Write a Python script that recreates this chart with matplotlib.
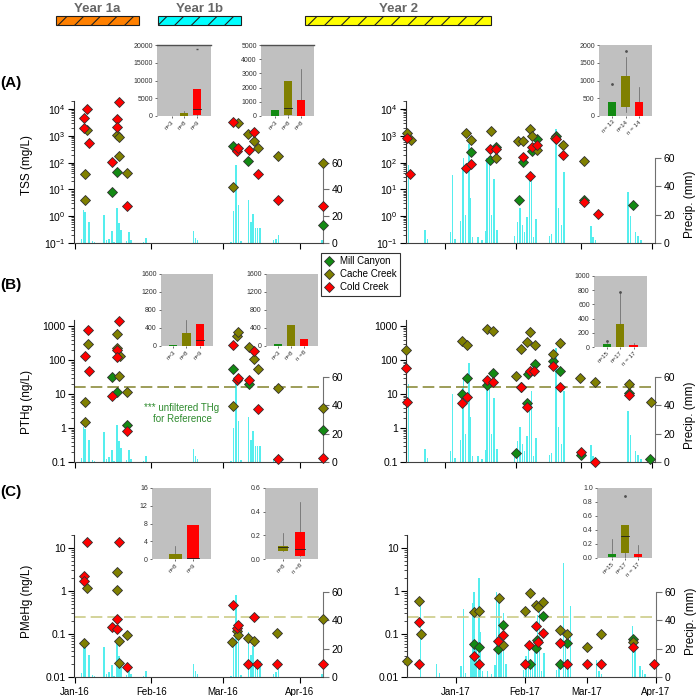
import matplotlib
matplotlib.use("Agg")
import matplotlib.pyplot as plt
from matplotlib.patches import Rectangle
from matplotlib.lines import Line2D
from matplotlib.ticker import FuncFormatter, NullFormatter
import numpy as np

plt.rcParams['font.family'] = ['Liberation Sans', 'DejaVu Sans']
plt.rcParams['hatch.linewidth'] = 0.8

# ---- data: (day since 1 Jan, value); year 1 = 2016, year 2 = 2017 ----
TSS_Y1_MILL = [(15.1, 7.8), (17.0, 43), (64.2, 410), (70.0, 115), (100.4, 0.48)]
TSS_Y1_CACHE = [(5.1, 1600), (4.0, 37), (4.0, 3.9), (17.0, 1050), (17.9, 900),
                (17.9, 180), (21.0, 40), (66.2, 3000), (69.9, 1150), (72.3, 650),
                (74.3, 340), (82.0, 180), (64.2, 12), (100.4, 100)]
TSS_Y1_COLD = [(5.1, 10000), (3.9, 4700), (3.9, 2000), (5.9, 560), (17.9, 19000),
               (17.0, 4200), (17.0, 2200), (15.1, 105), (21.0, 2.5), (64.2, 3200),
               (72.3, 1350), (65.6, 275), (66.2, 340), (70.3, 290), (74.0, 39),
               (82.0, 3.9), (100.4, 2.4)]
TSS_Y2_MILL = [(11.2, 245), (22, 380), (19.6, 125), (34, 102), (32, 4), (40, 780),
               (38, 280), (48.3, 1000), (60.4, 4), (81.6, 2.6)]
TSS_Y2_CACHE = [(-16.4, 1260), (-14.9, 700), (9, 1260), (11.2, 700), (20, 1580),
                (22, 145), (31.9, 660), (34, 660), (37, 1820), (38, 1020), (40, 300),
                (48, 850), (51.4, 440), (60.4, 120)]
TSS_Y2_COLD = [(-16.4, 810), (-15.2, 37), (9, 65), (11.2, 89), (19.6, 325), (22, 320),
               (34, 167), (38, 400), (40, 460), (37, 32), (48.3, 750), (51.4, 195),
               (60.4, 3.5), (66.4, 1.2)]

PTHG_Y1_MILL = [(15.1, 31), (17.0, 11.7), (21.0, 1.2), (64.2, 55), (70.3, 20), (100.4, 0.9)]
PTHG_Y1_CACHE = [(5.3, 290), (4.2, 5.8), (4.2, 1.5), (17.0, 570), (17.0, 230), (18.3, 130),
                 (17.9, 33), (21.0, 11.7), (65.8, 510), (66.2, 680), (70.3, 240),
                 (72.3, 107), (74.3, 55), (82.0, 15), (64.2, 4.3), (100.4, 4.0)]
PTHG_Y1_COLD = [(5.3, 760), (4.2, 134), (5.9, 46), (17.9, 1400), (17.0, 200), (17.0, 120),
                (15.1, 8.5), (21.0, 0.8), (64.2, 275), (72.3, 190), (65.6, 26), (66.2, 30),
                (70.3, 25), (74.3, 3.5), (82.4, 0.12), (100.4, 0.13)]
PTHG_Y2_MILL = [(9.7, 29), (7.5, 10), (20.7, 42), (18.4, 18), (32.9, 16), (39.1, 74),
                (36, 40), (35.8, 5.4), (46.8, 93), (50, 48), (80.1, 10.5), (30.9, 0.18),
                (59, 0.16), (89.1, 0.12)]
PTHG_Y2_CACHE = [(-17.0, 195), (7.5, 360), (9.7, 275), (18.4, 800), (20.7, 730), (30.7, 34),
                 (32.9, 205), (37, 650), (35.8, 330), (39.1, 280), (46.8, 148), (50, 325),
                 (58.7, 29), (65.2, 23), (80.1, 20), (89.4, 6)]
PTHG_Y2_COLD = [(-17.0, 57), (-16.4, 5.8), (7.5, 5.6), (9.7, 8.3), (18.4, 25), (20.7, 23),
                (32.9, 16), (37, 46), (38.5, 46), (35.8, 4.2), (46.8, 66), (50, 16),
                (80.1, 9.3), (59, 0.2), (65, 0.1)]

PMEHG_Y1_MILL = []
PMEHG_Y1_CACHE = [(5.1, 1.2), (3.8, 0.062), (17, 2.8), (17, 1.07), (17.7, 0.068), (21, 0.095),
                  (17.7, 0.021), (65.6, 0.115), (66.2, 0.095), (63.8, 0.065), (69.9, 0.079),
                  (72.3, 0.068), (81.8, 0.105), (100.2, 0.22)]
PMEHG_Y1_COLD = [(5.1, 14), (3.8, 2.2), (3.8, 1.7), (17.7, 13.5), (17, 0.22), (15, 0.145),
                 (17, 0.13), (21, 0.017), (64.2, 0.48), (65.6, 0.14), (66.2, 0.16),
                 (72.3, 0.245), (69.9, 0.02), (73.9, 0.02), (81.8, 0.02), (100.2, 0.02)]
PMEHG_Y2_MILL = [(8.1, 0.059), (10.4, 0.049), (21, 0.166), (19, 0.045), (33.3, 0.02),
                 (39.1, 0.26), (36.6, 0.074), (36, 0.048), (46.8, 0.02), (50.1, 0.063),
                 (79.9, 0.076)]
PMEHG_Y2_CACHE = [(-21.9, 0.024), (-16.7, 0.6), (-15.9, 0.1), (8.1, 0.32), (10.4, 0.34),
                  (19.4, 0.67), (21, 0.056), (31.1, 0.34), (33.3, 0.89), (35.9, 0.46),
                  (37.1, 0.42), (39.1, 0.55), (46.8, 0.126), (50.1, 0.1), (58.9, 0.051),
                  (65.2, 0.1), (79.9, 0.065)]
PMEHG_Y2_COLD = [(-16.7, 0.19), (-16.7, 0.02), (8.1, 0.03), (10.4, 0.02), (21, 0.095),
                 (19, 0.07), (33, 0.054), (31.1, 0.02), (35.9, 0.15), (39.1, 0.107),
                 (37.1, 0.065), (46.8, 0.062), (50.1, 0.02), (58.9, 0.02), (65.2, 0.02),
                 (79.9, 0.051), (89, 0.02)]

RAIN_Y1_DAY = [2.8, 3.5, 4.2, 5.8, 7.1, 8.0, 11.9, 12.8, 13.9, 15.0, 15.9, 17.0, 17.9, 18.7,
               21.0, 22.0, 22.8, 27.8, 28.9, 48.0, 48.9, 49.7, 63.1, 64.2, 65.2, 66.2, 67.2,
               70.3, 71.2, 72.0, 73.0, 73.9, 75.0, 80.4, 81.4, 82.4, 100.0]
RAIN_Y1_MM = [2.8, 25, 23.5, 15.7, 1.6, 0.9, 21, 2, 3.3, 8.7, 1, 26, 15, 10, 1.6, 8.2, 2.3,
              0.5, 4, 9, 4, 2.3, 0.5, 24, 58, 28.6, 1.6, 32, 15.7, 21.6, 11, 11, 11, 2.3,
              3.3, 5.9, 2.3]
RAIN_Y2_DAY = [-15.9, -8.7, -7.6, 2.3, 3.3, 4.3, 6.8, 7.5, 8.1, 9.0, 10.4, 11.0, 11.9, 14.3,
               16.0, 17.6, 18.3, 19.4, 20.2, 21.3, 22.5, 30.3, 31.5, 32.6, 33.6, 34.5, 35.6,
               36.6, 37.5, 38.5, 39.6, 45.4, 46.4, 48.3, 49.4, 50.5, 51.7, 63.4, 64.4, 65.4,
               79.6, 80.6, 82.9, 83.9, 85.2]
RAIN_Y2_MM = [55, 9, 3, 7.5, 48, 3, 15.7, 52, 60, 20, 70, 32, 4, 4, 2, 8.7, 60, 55.6, 20, 45,
              9, 5, 15, 25, 13, 7.5, 18, 44, 50, 4, 17, 5, 6, 80, 25, 13, 50, 12, 4, 2, 36,
              19, 7.5, 5, 2]

SITES = ['Mill Canyon', 'Cache Creek', 'Cold Creek']
MONTHS_Y1 = ['Jan-16', 'Feb-16', 'Mar-16', 'Apr-16']
MONTHS_Y2 = ['Jan-17', 'Feb-17', 'Mar-17', 'Apr-17']
MONTH_DAYS_Y1 = [0, 31, 60, 91]
MONTH_DAYS_Y2 = [0, 31, 59, 90]
REF_THG = 16
REF_MEHG = 0.25

# inset box summaries: (low whisker, q1, median, q3, high whisker)
BOX_A1 = [(0, 0, None, 50, 50), (0, 100, None, 900, 1500), (0, 250, 2000, 7600, 7600)]
OUT_A1 = [[], [], [19000]]
N_A1 = ['n=3', 'n=8', 'n=9']
BOX_A2 = [(0, 0, None, 400, 400), (0, 100, 550, 2500, 2500), (0, 0, None, 1100, 3300)]
OUT_A2 = [[], [], []]
N_A2 = ['n=3', 'n=8', 'n=8']
BOX_A3 = [(0, 0, None, 400, 400), (120, 250, None, 1130, 1650), (0, 0, None, 400, 820)]
OUT_A3 = [[900], [1820], []]
N_A3 = ['n= 13', 'n=14', 'n = 14']
BOX_B1 = [(0, 0, None, 22, 22), (0, 0, None, 298, 573), (0, 0, 135, 484, 484)]
OUT_B1 = [[], [], []]
N_B1 = ['n=3', 'n=8', 'n=9']
BOX_B2 = [(0, 0, None, 50, 50), (0, 0, None, 461, 461), (0, 0, None, 150, 150)]
OUT_B2 = [[], [], []]
N_B2 = ['n=3', 'n=8', 'n =8']
BOX_B3 = [(0, 0, None, 38, 60), (0, 0, None, 330, 764), (0, 0, None, 24, 57)]
OUT_B3 = [[85], [778], []]
N_B3 = ['n=15', 'n=17', 'n = 17']
BOX_C1 = [(0, 0, None, 1.2, 2.85), (0, 0, 0.2, 7.75, 7.75)]
OUT_C1 = [[], []]
N_C1 = ['n=8', 'n=9']
BOX_C2 = [(0.07, 0.07, 0.1, 0.113, 0.22), (0.023, 0.023, 0.087, 0.228, 0.48)]
OUT_C2 = [[], []]
N_C2 = ['n=8', 'n =8']
BOX_C3 = [(0.014, 0.014, None, 0.062, 0.27), (0.015, 0.07, 0.31, 0.476, 0.476),
          (0.014, 0.014, None, 0.062, 0.18)]
OUT_C3 = [[], [0.89], []]
N_C3 = ['n=15', 'n=17', 'n = 17']

GREEN = '#138a13'
OLIVE = '#808000'
RED = '#ff0000'
RAIN = '#55eeee'
GRAY_BG = '#c0c0c0'
SITE_COLORS = [GREEN, OLIVE, RED]

W, H = 700, 696
fig = plt.figure(figsize=(7, 6.96), dpi=100)


def px_rect(x0, x1, y0, y1):
    """pixel box (top-left origin) to figure fraction"""
    return [x0 / W, 1 - y1 / H, (x1 - x0) / W, (y1 - y0) / H]


def plain(v, _):
    return f'{v:g}'


def draw_panel(rect, xlim, month_days, month_labels, series, rain_day, rain_mm,
               ylim, plain_fmt, ylabel=None, ylabel_y=0.5, rlabel_y=None,
               ref=None, ref_color=None, xlabels=False, rain_top=100):
    ax = fig.add_axes(rect)
    axp = ax.twinx()
    ax.set_zorder(axp.get_zorder() + 1)
    ax.patch.set_visible(False)

    axp.bar(rain_day, rain_mm, width=0.6, color=RAIN, linewidth=0)
    axp.set_ylim(0, rain_top)
    axp.set_yticks([0, 20, 40, 60])
    for s in ['top', 'left', 'bottom']:
        axp.spines[s].set_visible(False)
    axp.spines['right'].set_bounds(0, 60)
    axp.spines['right'].set_color('#707070')
    axp.tick_params(axis='y', length=4, width=0.8, color='#707070', labelsize=7.5, pad=2)
    if rlabel_y is not None:
        axp.set_ylabel('Precip. (mm)', fontsize=8.5)
        axp.yaxis.set_label_coords(1.115, rlabel_y)

    for pts, c in zip(series, SITE_COLORS):
        if not pts:
            continue
        d = [p[0] for p in pts]
        v = [p[1] for p in pts]
        ax.plot(d, v, ls='none', marker='D', ms=5.6, mfc=c, mec='#303030',
                mew=0.6, clip_on=False, zorder=3)

    if ref is not None:
        ax.axhline(ref, color=ref_color, lw=1.2, ls=(0, (7, 3)), zorder=2)

    ax.set_yscale('log')
    ax.set_ylim(*ylim)
    ax.set_xlim(*xlim)
    if plain_fmt:
        ax.yaxis.set_major_formatter(FuncFormatter(plain))
    ax.yaxis.set_minor_formatter(NullFormatter())
    for s in ['top', 'right']:
        ax.spines[s].set_visible(False)
    ax.spines['left'].set_color('#303030')
    ax.spines['bottom'].set_color('#404040')
    ax.tick_params(axis='y', which='major', length=4, width=0.8, labelsize=7.5, pad=2)
    ax.tick_params(axis='y', which='minor', length=2, width=0.5)
    ax.set_xticks(month_days)
    if xlabels:
        ax.set_xticklabels(month_labels)
    else:
        ax.set_xticklabels([])
    ax.tick_params(axis='x', length=4, width=0.8, labelsize=7, pad=3)
    if ylabel:
        ax.set_ylabel(ylabel, fontsize=8.5)
        ax.yaxis.set_label_coords(-0.165, ylabel_y)
    return ax


def draw_inset(rect, boxes, outs, labels, colors, yticks, fmt, margins, width,
               top_line=False, out_marker='.'):
    axi = fig.add_axes(rect)
    axi.set_facecolor(GRAY_BG)
    for s in axi.spines.values():
        s.set_visible(False)
    if top_line:
        axi.spines['top'].set_visible(True)
        axi.spines['top'].set_color('#505050')
        axi.spines['top'].set_linewidth(1.0)
    pos = np.arange(len(boxes))
    for p, (lo, q1, med, q3, hi), o, c in zip(pos, boxes, outs, colors):
        axi.plot([p, p], [lo, hi], color='#606060', lw=0.5, zorder=1)
        axi.bar(p, q3 - q1, bottom=q1, width=width, color=c, zorder=2)
        if med is not None:
            axi.plot([p - width / 2, p + width / 2], [med, med], color='#202020',
                     lw=0.6, zorder=3)
        if o:
            axi.plot([p] * len(o), o, ls='none', marker=out_marker, ms=2,
                     color='#505050', zorder=3)
    axi.set_xlim(-margins[0], len(boxes) - 1 + margins[1])
    axi.set_ylim(yticks[0], yticks[-1])
    axi.set_yticks(yticks)
    axi.set_yticklabels([fmt.format(t) for t in yticks])
    axi.set_xticks(pos)
    axi.set_xticklabels(labels, rotation=45, ha='right', rotation_mode='anchor',
                        fontsize=4.5)
    axi.tick_params(axis='y', labelsize=5, length=1.5, width=0.5, pad=1.5, colors='#303030')
    axi.tick_params(axis='x', length=1.5, width=0.5, pad=1, colors='#303030')
    return axi


# ---- year bars on top ----
for x0, x1, col, txt in [(56, 139, '#ff8000', 'Year 1a'), (158, 241, '#00ffff', 'Year 1b'),
                         (305, 491, '#ffff00', 'Year 2')]:
    r = px_rect(x0, x1, 15.7, 25)
    fig.add_artist(Rectangle((r[0], r[1]), r[2], r[3], transform=fig.transFigure,
                             facecolor=col, edgecolor='#202020', hatch='//', lw=0.8))
    fig.text((x0 + x1) / 2 / W, 1 - 8.5 / H, txt, ha='center', va='center',
             fontsize=9.5, fontweight='bold', color='#666666',
             family=['Liberation Sans Narrow', 'Liberation Sans'])

# ---- panel labels ----
for y, lab in [(83, '(A)'), (285, '(B)'), (492, '(C)')]:
    fig.text(11 / W, 1 - y / H, lab, ha='center', va='center', fontsize=11,
             fontweight='bold')

XL_Y1 = (-0.3, 100.4)
XL_Y2_AB = (-17.0, 91.3)
XL_Y2_C = (-22.1, 90.1)

# ---- panel A ----
draw_panel(px_rect(74, 323, 101, 243), XL_Y1, MONTH_DAYS_Y1, MONTHS_Y1,
           [TSS_Y1_MILL, TSS_Y1_CACHE, TSS_Y1_COLD], RAIN_Y1_DAY, RAIN_Y1_MM,
           (0.1, 2e4), False, ylabel='TSS (mg/L)', ylabel_y=0.55, rain_top=106)
draw_panel(px_rect(406, 655, 101, 243), XL_Y2_AB, MONTH_DAYS_Y2, MONTHS_Y2,
           [TSS_Y2_MILL, TSS_Y2_CACHE, TSS_Y2_COLD], RAIN_Y2_DAY, RAIN_Y2_MM,
           (0.1, 2e4), False, rlabel_y=0.27)

# ---- panel B ----
draw_panel(px_rect(74, 323, 320, 462), XL_Y1, MONTH_DAYS_Y1, MONTHS_Y1,
           [PTHG_Y1_MILL, PTHG_Y1_CACHE, PTHG_Y1_COLD], RAIN_Y1_DAY, RAIN_Y1_MM,
           (0.1, 1500), True, ylabel='PTHg (ng/L)', ylabel_y=0.42,
           ref=REF_THG, ref_color='#8c8c3c')
draw_panel(px_rect(406, 655, 320, 462), XL_Y2_AB, MONTH_DAYS_Y2, MONTHS_Y2,
           [PTHG_Y2_MILL, PTHG_Y2_CACHE, PTHG_Y2_COLD], RAIN_Y2_DAY, RAIN_Y2_MM,
           (0.1, 1500), True, rlabel_y=0.33, ref=REF_THG, ref_color='#8c8c3c')
fig.text(182 / W, 1 - 413.5 / H, '*** unfiltered THg\nfor Reference', ha='center',
         va='center', fontsize=7, color='#2e8b2e', linespacing=1.1,
         family=['Liberation Sans Narrow', 'Liberation Sans'])

# ---- panel C ----
draw_panel(px_rect(74, 323, 535, 677), XL_Y1, MONTH_DAYS_Y1, MONTHS_Y1,
           [PMEHG_Y1_MILL, PMEHG_Y1_CACHE, PMEHG_Y1_COLD], RAIN_Y1_DAY, RAIN_Y1_MM,
           (0.01, 20), True, ylabel='PMeHg (ng/L)', ylabel_y=0.53,
           ref=REF_MEHG, ref_color='#cccc88', xlabels=True)
draw_panel(px_rect(407, 656, 535, 677), XL_Y2_C, MONTH_DAYS_Y2, MONTHS_Y2,
           [PMEHG_Y2_MILL, PMEHG_Y2_CACHE, PMEHG_Y2_COLD], RAIN_Y2_DAY, RAIN_Y2_MM,
           (0.01, 20), True, rlabel_y=0.39, ref=REF_MEHG, ref_color='#cccc88',
           xlabels=True)

# ---- insets ----
draw_inset(px_rect(157, 211, 45, 116), BOX_A1, OUT_A1, N_A1, SITE_COLORS,
           [0, 5000, 10000, 15000, 20000], '{:g}', (1.14, 1.1), 0.6, top_line=True,
           out_marker='_')
draw_inset(px_rect(261, 314, 45, 116), BOX_A2, OUT_A2, N_A2, SITE_COLORS,
           [0, 1000, 2000, 3000, 4000, 5000], '{:g}', (1.1, 1.02), 0.62, top_line=True)
draw_inset(px_rect(599, 652, 45, 116), BOX_A3, OUT_A3, N_A3, SITE_COLORS,
           [0, 500, 1000, 1500, 2000], '{:g}', (0.98, 0.98), 0.62)
draw_inset(px_rect(161, 213, 274, 346), BOX_B1, OUT_B1, N_B1, SITE_COLORS,
           [0, 400, 800, 1200, 1600], '{:g}', (0.92, 1.0), 0.62)
draw_inset(px_rect(266, 318, 274, 346), BOX_B2, OUT_B2, N_B2, SITE_COLORS,
           [0, 400, 800, 1200, 1600], '{:g}', (0.91, 1.09), 0.62)
draw_inset(px_rect(594, 647, 276, 347), BOX_B3, OUT_B3, N_B3, SITE_COLORS,
           [0, 200, 400, 600, 800, 1000], '{:g}', (0.95, 1.0), 0.62)
draw_inset(px_rect(152, 211, 488, 559), BOX_C1, OUT_C1, N_C1, [OLIVE, RED],
           [0, 4, 8, 12, 16], '{:g}', (1.32, 1.02), 0.7)
draw_inset(px_rect(265, 318, 488, 559), BOX_C2, OUT_C2, N_C2, [OLIVE, RED],
           [0.0, 0.2, 0.4, 0.6], '{:.1f}', (1.1, 1.1), 0.62)
draw_inset(px_rect(597, 652, 488, 558), BOX_C3, OUT_C3, N_C3, SITE_COLORS,
           [0.0, 0.2, 0.4, 0.6, 0.8, 1.0], '{:.1f}', (1.17, 1.13), 0.62)

# ---- legend ----
handles = [Line2D([], [], ls='none', marker='D', ms=5.6, mfc=c, mec='#303030', mew=0.6)
           for c in SITE_COLORS]
leg = fig.legend(handles, SITES, loc='upper left', bbox_to_anchor=(321 / W, 1 - 253 / H),
                 frameon=True, fancybox=False, edgecolor='black', fontsize=7,
                 borderpad=0.35, labelspacing=0.3, handletextpad=0.6, handlelength=1.0,
                 borderaxespad=0)
leg.get_frame().set_linewidth(0.8)

fig.savefig('out.png', dpi=100)
